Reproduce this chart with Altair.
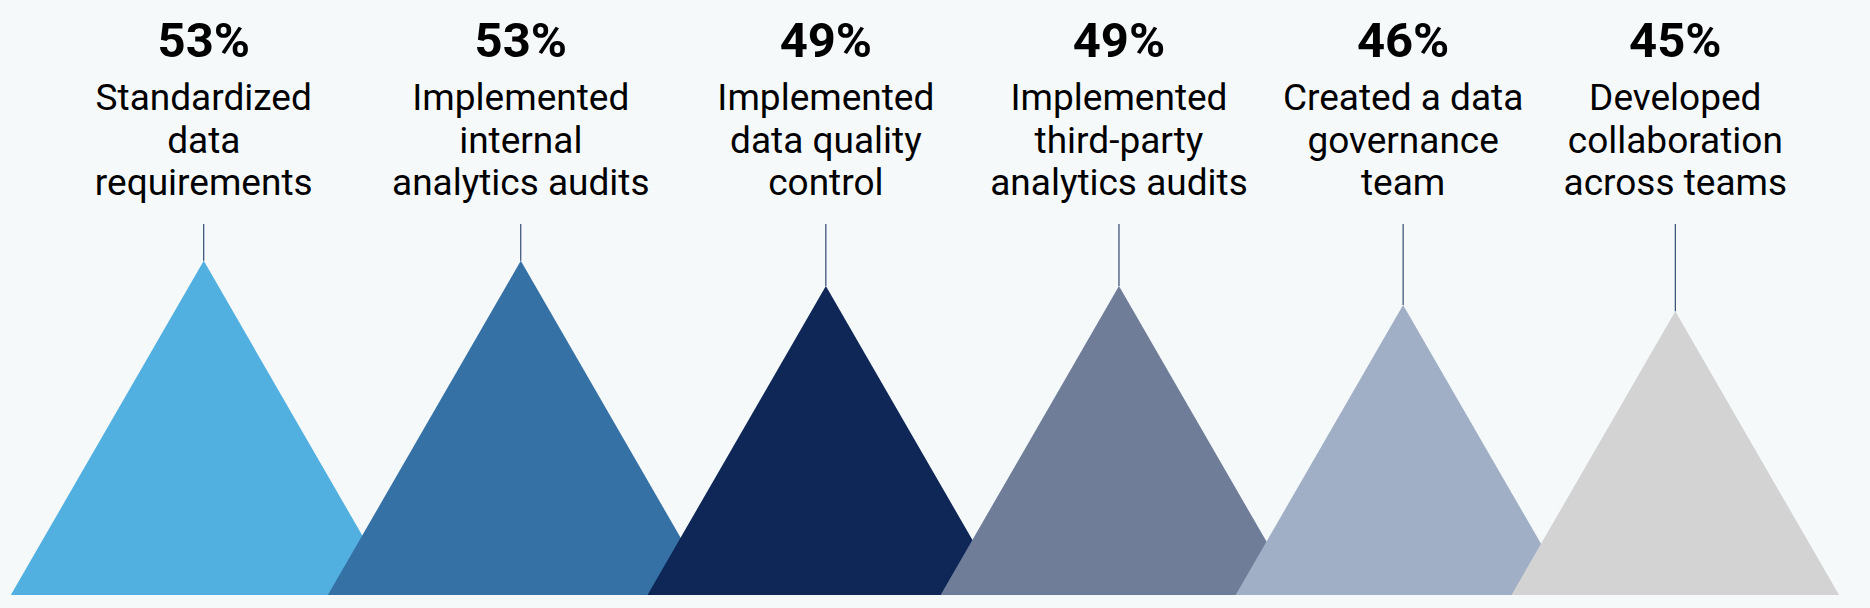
import altair as alt
import pandas as pd

# ---- data ----
labels = [
    "Standardized\ndata\nrequirements",
    "Implemented\ninternal\nanalytics audits",
    "Implemented\ndata quality\ncontrol",
    "Implemented\nthird-party\nanalytics audits",
    "Created a data\ngovernance\nteam",
    "Developed\ncollaboration\nacross teams",
]
values = [53, 53, 49, 49, 46, 45]
colors = ["#52B0E0", "#3671A6", "#0E2756", "#6F7D99", "#A0AFC6", "#D3D3D3"]

df = pd.DataFrame({"label": labels, "pct": values, "idx": list(range(len(labels)))})

W, H = 1870, 608
BG = "#F5F9FA"
TRIANGLE = "M-1,0L0,-1.7320508L1,0Z"  # equilateral, anchored at its base centre

xscale = alt.Scale(domain=[-7.56, 305.05], range=[0, W], nice=False, zero=False)
yscale = alt.Scale(domain=[-2.062, 94.37], range=[H, 0], nice=False, zero=False)
sscale = alt.Scale(type="pow", exponent=2, domain=[0, 100], range=[0, 530000])

base = (
    alt.Chart(df)
    .transform_window(cum="sum(pct)", sort=[alt.SortField("idx")], frame=[None, 0])
    .transform_calculate(mid="datum.cum - datum.pct / 2", pct_label="datum.pct + '%'")
)

X = alt.X("mid:Q", scale=xscale, axis=None)

triangles = base.mark_point(
    shape=TRIANGLE, filled=True, opacity=1, strokeWidth=0
).encode(
    x=X,
    y=alt.Y(datum=0, scale=yscale, axis=None),
    size=alt.Size("pct:Q", scale=sscale, legend=None),
    color=alt.Color("idx:O", scale=alt.Scale(domain=list(range(len(labels))), range=colors), legend=None),
    order=alt.Order("idx:Q"),
)

rules = base.mark_rule(color="#0E2756", strokeWidth=1).encode(
    x=X,
    y=alt.Y("pct:Q", scale=yscale, axis=None),
    y2=alt.value(224),
)

pct_text = base.mark_text(
    font="Roboto", fontSize=49, fontWeight="bold", color="#000000",
    align="center", baseline="alphabetic",
).encode(x=X, y=alt.value(57), text="pct_label:N")

label_text = base.mark_text(
    font="Roboto", fontSize=37, color="#000000", align="center",
    baseline="alphabetic", lineBreak="\n", lineHeight=42.5,
).encode(x=X, y=alt.value(110), text="label:N")

chart = (
    alt.layer(triangles, rules, pct_text, label_text)
    .properties(width=W, height=H, background=BG, padding=0,
                autosize=alt.AutoSizeParams(type="none"))
    .configure_view(stroke=None, fill=BG)
)

chart.save("out.html", embed_options={"renderer": "svg", "actions": False})
